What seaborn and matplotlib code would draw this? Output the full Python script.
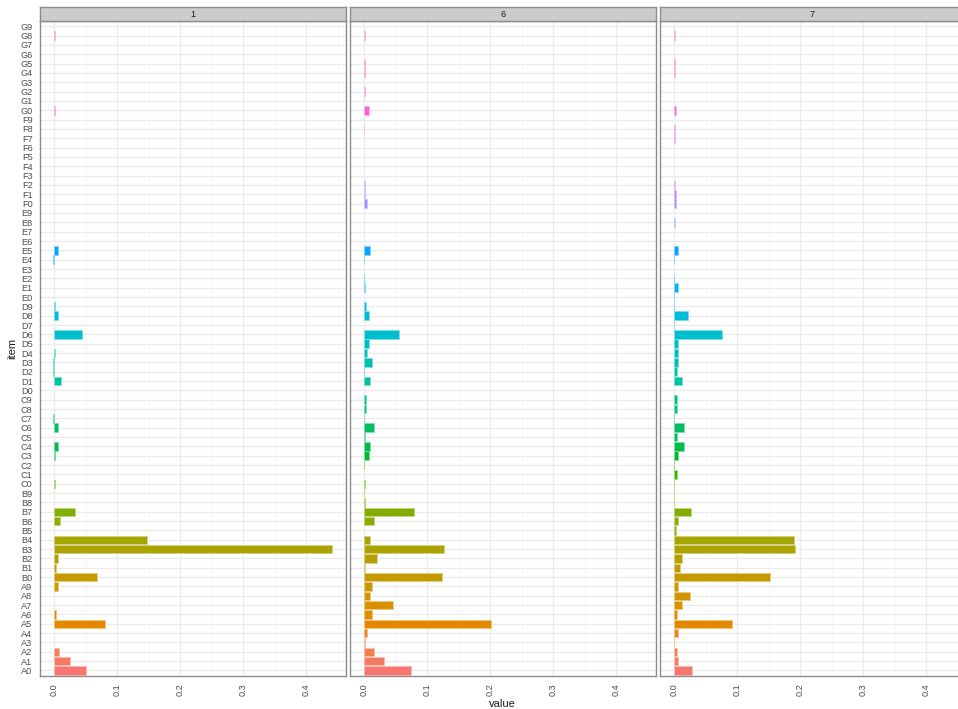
import numpy as np
import pandas as pd
import matplotlib
matplotlib.use("Agg")
import matplotlib.pyplot as plt
from matplotlib.ticker import MultipleLocator
import seaborn as sns

# ---- data -------------------------------------------------------------
items = [f"{g}{d}" for g in "ABCDEFG" for d in range(10)]
panels = ["1", "6", "7"]

# values in item order A0..A9, B0..B9, ..., G0..G9
values_1 = [
    0.050, 0.026, 0.0084, 0.0, 0.0, 0.081, 0.003, 0.0, 0.0, 0.006,      # A
    0.068, 0.003, 0.007, 0.440, 0.147, 0.0, 0.010, 0.033, 0.0, 0.0,     # B
    0.001, 0.0, 0.0, 0.002, 0.006, 0.0, 0.007, -0.001, 0.0, 0.0,        # C
    0.0, 0.011, -0.001, -0.001, 0.001, 0.0, 0.044, 0.0, 0.006, 0.001,   # D
    0.0, 0.0, 0.0, 0.0, -0.001, 0.006, 0.0, 0.0, 0.0, 0.0,              # E
    0.0, 0.0, 0.0, 0.0, 0.0, 0.0, 0.0, 0.0, 0.0, 0.0,                   # F
    0.001, 0.0, 0.0, 0.0, 0.0, 0.0, 0.0, 0.0, 0.001, 0.0,               # G
]
values_6 = [
    0.074, 0.032, 0.016, 0.0015, 0.004, 0.201, 0.012, 0.046, 0.010, 0.012,      # A
    0.123, 0.002, 0.021, 0.126, 0.010, 0.0, 0.016, 0.079, 0.002, -0.001,        # B
    0.002, 0.0, -0.001, 0.007, 0.009, 0.002, 0.015, -0.001, 0.0026, 0.0026,     # C
    0.0, 0.009, -0.001, 0.012, 0.004, 0.008, 0.055, 0.0, 0.0084, 0.0037,        # D
    0.0, 0.002, -0.001, 0.0, -0.001, 0.0095, 0.0, 0.0, 0.0, 0.0,                # E
    0.004, 0.001, 0.001, 0.0, 0.0, 0.0, 0.0, 0.0, -0.001, 0.0,                  # F
    0.008, 0.0, 0.002, 0.0, 0.0015, 0.002, 0.0, 0.0, 0.002, 0.0,                # G
]
values_7 = [
    0.028, 0.006, 0.005, 0.0005, 0.006, 0.092, 0.005, 0.013, 0.026, 0.006,      # A
    0.152, 0.009, 0.012, 0.192, 0.190, 0.003, 0.007, 0.027, 0.0005, 0.0005,     # B
    0.0005, 0.004, 0.0005, 0.007, 0.015, 0.004, 0.015, 0.0005, 0.005, 0.004,    # C
    0.0, 0.012, 0.004, 0.007, 0.006, 0.006, 0.076, 0.0005, 0.022, 0.0005,       # D
    0.0005, 0.007, 0.0005, 0.0, 0.0005, 0.006, 0.0, 0.0, 0.0008, 0.0,           # E
    0.0025, 0.0025, 0.0008, 0.0, 0.0, 0.0, 0.0, 0.0008, 0.0008, 0.0,            # F
    0.0025, 0.0, 0.0, 0.0, 0.0008, 0.0008, 0.0, 0.0, 0.0008, 0.0,               # G
]
x_ticks = [0.0, 0.1, 0.2, 0.3, 0.4]
x_tick_labels = ["0.0", "0.1", "0.2", "0.3", "0.4"]

df = pd.DataFrame({
    "item": items * 3,
    "value": values_1 + values_6 + values_7,
    "panel": np.repeat(panels, len(items)),
})


# ---- ggplot-style hue palette (HCL, l=65, c=100) ----------------------
def hcl_to_hex(h, c=100.0, l=65.0):
    xn, yn, zn = 95.047, 100.0, 108.883
    un = 4 * xn / (xn + 15 * yn + 3 * zn)
    vn = 9 * yn / (xn + 15 * yn + 3 * zn)
    u = c * np.cos(np.radians(h))
    v = c * np.sin(np.radians(h))
    y = yn * ((l + 16) / 116) ** 3
    up = u / (13 * l) + un
    vp = v / (13 * l) + vn
    x = 9 * y * up / (4 * vp)
    z = -x / 3 - 5 * y + 3 * y / vp
    x, y, z = x / 100, y / 100, z / 100
    r = 3.2404542 * x - 1.5371385 * y - 0.4985314 * z
    g = -0.9692660 * x + 1.8760108 * y + 0.0415560 * z
    b = 0.0556434 * x - 0.2040259 * y + 1.0572252 * z

    def gam(t):
        t = max(t, 0.0)
        t = 12.92 * t if t <= 0.0031308 else 1.055 * t ** (1 / 2.4) - 0.055
        return min(max(t, 0.0), 1.0)

    return matplotlib.colors.to_hex((gam(r), gam(g), gam(b)))


n = len(items)
hues = np.linspace(15, 375, n + 1)[:n]
palette = {it: hcl_to_hex(h) for it, h in zip(items, hues)}

# ---- figure layout ----------------------------------------------------
W, H = 958, 709
fig = plt.figure(figsize=(W / 100, H / 100), dpi=100)
sns.set_style("white")
plt.rcParams["font.family"] = ["Liberation Sans", "DejaVu Sans"]

panel_left = [39.5, 349.6, 659.5]
panel_w = 306.0
panel_top, panel_bottom = 20.7, 676.0
strip_top = 6.7
border_col = "#8C8C8C"

vmin = min(df["value"].min(), 0.0)
vmax = df["value"].max()
pad = 0.05 * (vmax - vmin)
xlim = (vmin - pad, vmax + pad)

order = items[::-1]  # A0 at the bottom, G9 at the top

for i, p in enumerate(panels):
    left = panel_left[i] / W
    bottom = 1 - panel_bottom / H
    height = (panel_bottom - panel_top) / H
    ax = fig.add_axes([left, bottom, panel_w / W, height])
    sub = df[df["panel"] == p]
    sns.barplot(data=sub, x="value", y="item", hue="item", order=order,
                hue_order=items, palette=palette, saturation=1, width=0.9,
                orient="h", legend=False, errorbar=None, ax=ax, zorder=3)

    # soft halo around each bar, none on zero-length bars
    for patch in ax.patches:
        fc = np.array(matplotlib.colors.to_rgb(patch.get_facecolor()))
        ec = fc * 0.5 + 0.5
        if abs(patch.get_width()) < 1e-9:
            patch.set_linewidth(0)
        else:
            patch.set_edgecolor(ec)
            patch.set_linewidth(0.6)

    ax.set_xlim(*xlim)
    ax.set_ylim(n - 0.4, -0.6)
    ax.set_xticks(x_ticks)
    ax.set_xticklabels(x_tick_labels, rotation=90, fontsize=6.6, color="#4D4D4D")
    ax.xaxis.set_minor_locator(MultipleLocator(0.05))
    ax.grid(True, which="major", axis="both", color="#EBEBEB", linewidth=0.9, zorder=0)
    ax.grid(True, which="minor", axis="x", color="#F4F4F4", linewidth=0.5, zorder=0)
    ax.set_axisbelow(True)
    ax.tick_params(axis="both", which="major", length=3, width=0.7,
                   color="#333333", pad=2)
    ax.tick_params(axis="x", which="minor", length=0)
    if i == 0:
        ax.tick_params(axis="y", labelsize=6.6, labelcolor="#4D4D4D")
        ax.set_ylabel("item", fontsize=8, color="#1A1A1A", labelpad=2)
    else:
        ax.tick_params(axis="y", left=False, labelleft=False)
        ax.set_ylabel("")
    ax.set_xlabel("")
    for s in ax.spines.values():
        s.set_edgecolor(border_col)
        s.set_linewidth(1.0)
        s.set_zorder(5)

    # facet strip
    sax = fig.add_axes([left, 1 - panel_top / H, panel_w / W, (panel_top - strip_top) / H])
    sax.set_facecolor("#CCCCCC")
    sax.set_xticks([])
    sax.set_yticks([])
    for s in sax.spines.values():
        s.set_edgecolor(border_col)
        s.set_linewidth(1.0)
    sax.text(0.5, 0.45, p, ha="center", va="center", fontsize=6.6,
             color="#1A1A1A", transform=sax.transAxes)

fig.text(502 / W, 1 - 704 / H, "value", ha="center", va="center",
         fontsize=8, color="#1A1A1A")

fig.savefig("out.png", dpi=100)
